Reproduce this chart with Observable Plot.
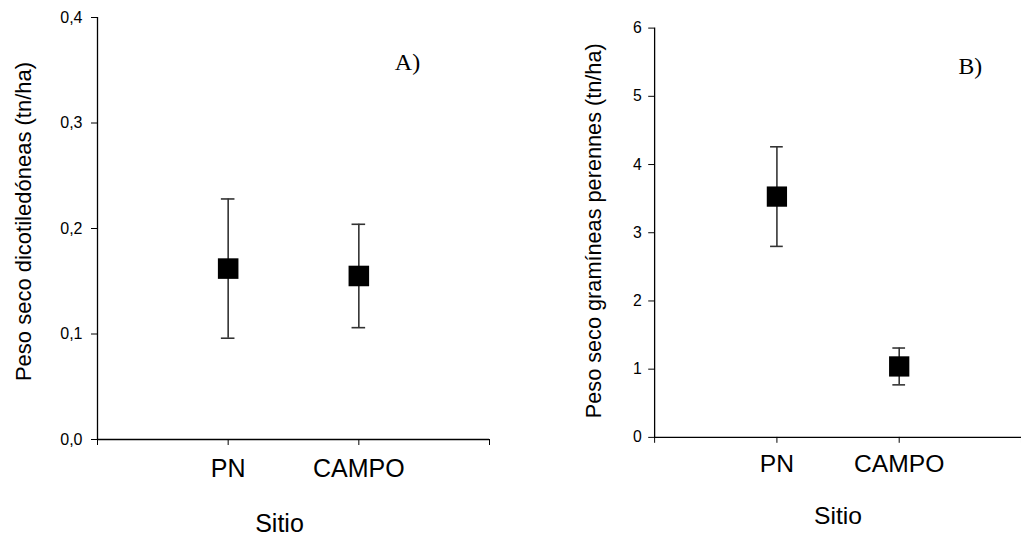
<!DOCTYPE html>
<html>
<head>
<meta charset="utf-8">
<script src="https://cdn.jsdelivr.net/npm/d3@7"></script>
<script src="https://cdn.jsdelivr.net/npm/@observablehq/plot@0.6"></script>
<style>
  html, body { margin: 0; padding: 0; background: #fff; overflow: hidden; width: 1021px; height: 546px; }
  #wrap { position: relative; width: 1021px; height: 546px; }
  #a { position: absolute; left: 0; top: 0; }
  #b { position: absolute; left: 520px; top: 0; }
  svg { font-family: "Liberation Sans", Arial, sans-serif; background: transparent; }
</style>
</head>
<body>
<div id="wrap"><div id="a"></div><div id="b"></div></div>
<script>
// Sites (categories)
const sites = ["PN", "CAMPO"];
const xTickValues = [0, 1, 2, 3];

// Panel A: Peso seco dicotiledóneas (tn/ha)
const dicotMean = [0.162, 0.155];
const dicotLow  = [0.096, 0.106];
const dicotHigh = [0.228, 0.204];
const yTicksA = [0, 0.1, 0.2, 0.3, 0.4];

// Panel B: Peso seco gramíneas perennes (tn/ha)
const gramMean = [3.53, 1.04];
const gramLow  = [2.80, 0.77];
const gramHigh = [4.26, 1.31];
const yTicksB = [0, 1, 2, 3, 4, 5, 6];

const capHalf = 0.052;

function rows(mean, low, high) {
  return sites.map((s, i) => ({site: s, pos: i + 1, mean: mean[i], low: low[i], high: high[i]}));
}

function panel(o) {
  const data = rows(o.mean, o.low, o.high);
  return Plot.plot({
    width: o.width, height: 546,
    marginLeft: o.ml, marginRight: o.mr, marginTop: o.mt, marginBottom: o.mb,
    style: {fontFamily: '"Liberation Sans", Arial, sans-serif', color: "#000", background: "transparent"},
    x: {domain: [0, 3]},
    y: {domain: o.ydomain},
    marks: [
      Plot.axisY({ticks: o.yticks, tickFormat: o.yfmt, tickSize: 6, tickPadding: o.ypad, fontSize: 16, label: null, stroke: "#000"}),
      Plot.axisX({ticks: xTickValues, tickFormat: d => (sites[d - 1] ?? ""), tickSize: 6, tickPadding: o.xpad, fontSize: 25, label: null, stroke: "#000"}),
      Plot.ruleX([0], {stroke: "#000", strokeWidth: 1.3}),
      Plot.ruleY([0], {stroke: "#000", strokeWidth: 1.3}),
      Plot.ruleX(data, {x: "pos", y1: "low", y2: "high", stroke: "#333", strokeWidth: 1.6}),
      Plot.ruleY(data, {y: "high", x1: d => d.pos - capHalf, x2: d => d.pos + capHalf, stroke: "#333", strokeWidth: 1.6}),
      Plot.ruleY(data, {y: "low", x1: d => d.pos - capHalf, x2: d => d.pos + capHalf, stroke: "#333", strokeWidth: 1.6}),
      Plot.dot(data, {x: "pos", y: "mean", symbol: "square", r: 11.6, fill: "#000", stroke: "none"}),
      Plot.text([o.ylabel], {frameAnchor: "left", rotate: -90, dx: o.ylx, dy: o.yly, fontSize: 22, textAnchor: "middle", lineAnchor: "middle", fill: "#000"}),
      Plot.text(["Sitio"], {frameAnchor: "bottom", dx: o.sx, dy: o.sy, fontSize: 25, textAnchor: "middle", lineAnchor: "middle", fill: "#000"}),
      Plot.text([o.letter], {frameAnchor: "top-right", dx: o.lx, dy: o.ly, fontSize: 24, textAnchor: "middle", lineAnchor: "middle", fontFamily: '"Liberation Serif", "Times New Roman", serif', fill: "#000"})
    ]
  });
}

document.getElementById("a").appendChild(panel({
  width: 510, ml: 97, mr: 21, mt: 17, mb: 107,
  ydomain: [0, 0.4], yticks: yTicksA, yfmt: d => d3.format(".1f")(d).replace(".", ","),
  ypad: 9, xpad: 14,
  mean: dicotMean, low: dicotLow, high: dicotHigh,
  ylabel: "Peso seco dicotiledóneas (tn/ha)", ylx: -74, yly: -7,
  sx: -14, sy: 84,
  letter: "A)", lx: -82, ly: 45
}));

document.getElementById("b").appendChild(panel({
  width: 508, ml: 136, mr: 0, mt: 28, mb: 103,
  ydomain: [0, 6], yticks: yTicksB, yfmt: d => String(d),
  ypad: 7, xpad: 11,
  mean: gramMean, low: gramLow, high: gramHigh,
  ylabel: "Peso seco gramíneas perennes (tn/ha)", ylx: -61, yly: -2,
  sx: 0, sy: 80,
  letter: "B)", lx: -52, ly: 39
}));
</script>
</body>
</html>
